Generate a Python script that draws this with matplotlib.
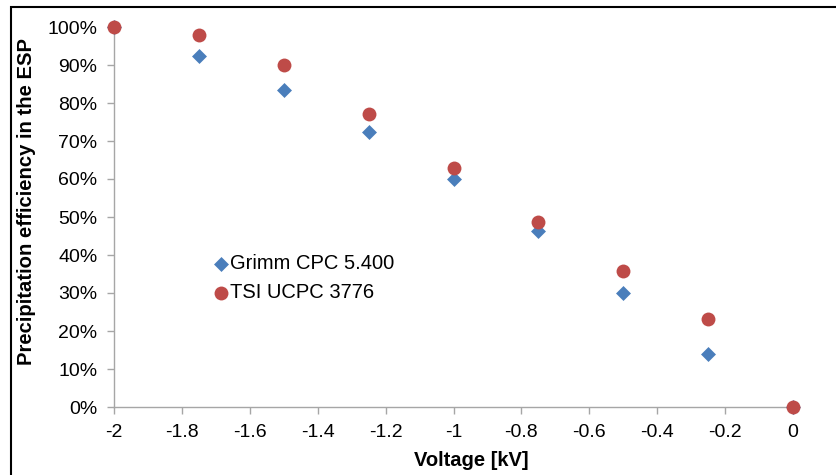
import matplotlib
matplotlib.use("Agg")
import matplotlib.pyplot as plt
from matplotlib.patches import Rectangle
from matplotlib.ticker import FuncFormatter, MultipleLocator

plt.rcParams['font.family'] = ['Liberation Sans', 'DejaVu Sans']

voltage = [-2.0, -1.75, -1.5, -1.25, -1.0, -0.75, -0.5, -0.25, 0.0]
grimm = [100.0, 92.3, 83.3, 72.5, 60.0, 46.3, 30.0, 14.0, 0.0]
tsi = [100.0, 98.0, 90.0, 77.0, 63.0, 48.7, 35.7, 23.2, 0.0]
series_names = ["Grimm CPC 5.400", "TSI UCPC 3776"]
x_label = "Voltage [kV]"
y_label = "Precipitation efficiency in the ESP"

W, H = 836, 475
fig = plt.figure(figsize=(W / 100, H / 100), dpi=100)
ax = fig.add_axes([114 / W, 1 - 407 / H, (793 - 114) / W, (407 - 27) / H])

blue = "#4A7EBB"
red = "#BE4B48"
ax.scatter(voltage, grimm, marker="D", s=58, color=blue, zorder=3, clip_on=False,
           label=series_names[0], linewidths=0)
ax.scatter(voltage, tsi, marker="o", s=100, color=red, zorder=4, clip_on=False,
           label=series_names[1], linewidths=0)

ax.set_xlim(-2, 0)
ax.set_ylim(0, 100)
ax.xaxis.set_major_locator(MultipleLocator(0.2))
ax.yaxis.set_major_locator(MultipleLocator(10))
ax.xaxis.set_major_formatter(FuncFormatter(lambda v, p: "0" if abs(v) < 1e-9 else ("%g" % round(v, 1))))
ax.yaxis.set_major_formatter(FuncFormatter(lambda v, p: "%d%%" % round(v)))

for s in ["top", "right"]:
    ax.spines[s].set_visible(False)
for s in ["left", "bottom"]:
    ax.spines[s].set_color("#A6A6A6")
    ax.spines[s].set_linewidth(1.0)
ax.tick_params(axis="both", colors="#A6A6A6", length=5, width=1.0, labelcolor="black",
               labelsize=14, direction="out")
ax.tick_params(axis="x", pad=7)
ax.tick_params(axis="y", pad=7)

fig.text(471 / W, 1 - 461 / H, x_label, fontsize=14.5, fontweight="bold",
         ha="center", va="center")
fig.text(27 / W, 1 - 201 / H, y_label, fontsize=14.6, fontweight="bold",
         ha="center", va="center", rotation=90)

leg = ax.legend(loc="upper left",
                bbox_to_anchor=((213 - 114) / (793 - 114), (407 - 254) / (407 - 27)),
                frameon=False, fontsize=14.5, handletextpad=0.05, handlelength=0.8,
                borderaxespad=0, labelspacing=0.5, borderpad=0, markerscale=1.0)

fig.patches.append(Rectangle((11 / W, -0.1), 1.2, 1 - 7 / H + 0.1, transform=fig.transFigure,
                             fill=False, edgecolor="black", linewidth=1.5))

fig.savefig("out.png", dpi=100)
